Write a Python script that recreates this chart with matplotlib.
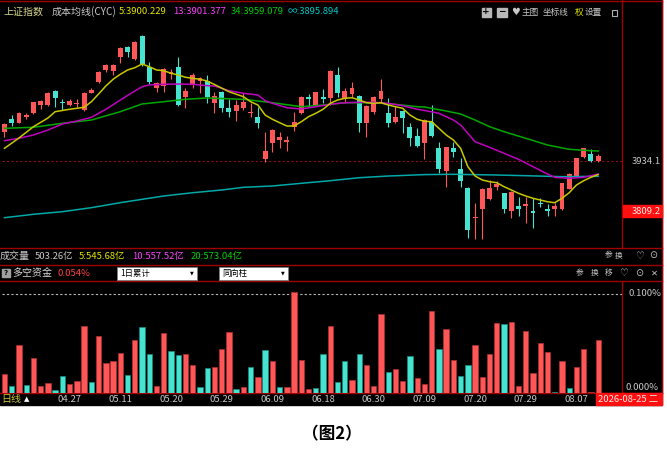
import matplotlib
matplotlib.use("Agg")
import matplotlib.pyplot as plt
from matplotlib.patches import Rectangle
from matplotlib.transforms import blended_transform_factory

# ---------------- data ----------------
opens = [4007.3,4039.8,4029.8,4044.0,4053.3,4074.0,4074.0,4108.2,4081.5,4074.7,
         4076.5,4061.5,4104.7,4131.4,4162.2,4158.9,4194.6,4219.6,4188.2,4246.4,
         4169.7,4117.2,4122.2,4150.7,4168.9,4094.7,4124.0,4134.7,4134.7,4079.7,
         4107.2,4065.8,4059.7,4067.2,4054.0,4044.8,3939.1,3979.1,3985.8,3980.8,
         4019.8,4053.3,4093.2,4072.2,4094.0,4092.2,4148.9,4089.0,4100.7,4096.5,
         4028.3,4055.8,4089.0,4054.8,4030.8,4059.0,4019.8,3996.6,3978.3,4032.3,
         3967.3,3909.9,3965.8,3913.4,3867.4,3791.0,3813.5,3839.2,3868.4,3853.4,
         3810.0,3821.7,3822.4,3810.0,3828.4,3813.5,3814.2,3813.5,3864.2,3896.6,
         3944.8,3951.6,3934.1]
highs = [4027.8,4049.0,4057.3,4054.8,4082.2,4085.5,4106.5,4111.5,4089.0,4088.2,
         4088.2,4105.7,4115.7,4159.7,4175.7,4176.4,4219.6,4221.4,4233.9,4248.1,
         4182.2,4132.2,4167.2,4163.2,4194.6,4115.7,4153.2,4144.7,4148.9,4107.7,
         4109.7,4088.2,4086.5,4103.2,4079.7,4069.7,4007.3,4013.0,4007.3,3996.6,
         4057.3,4096.5,4101.5,4107.7,4114.7,4161.4,4169.7,4115.7,4130.7,4099.0,
         4074.0,4096.5,4138.9,4090.7,4072.2,4061.5,4029.8,4015.8,4038.3,4074.0,
         3982.3,3969.8,3982.3,3940.8,3869.9,3829.9,3865.9,3886.6,3884.9,3855.0,
         3859.2,3843.4,3844.9,3840.9,3840.9,3826.7,3829.9,3879.9,3903.4,3942.4,
         3967.3,3964.1,3950.9]
lows = [3994.1,4021.5,4028.3,4038.3,4051.5,4063.3,4072.2,4068.2,4061.5,4071.5,
        4068.2,4059.7,4103.2,4128.9,4157.2,4148.9,4179.7,4193.1,4186.4,4172.2,
        4126.4,4106.5,4107.2,4138.2,4071.5,4067.2,4117.2,4103.2,4079.7,4054.8,
        4055.8,4044.8,4034.0,4061.5,4043.2,4017.3,3930.9,3957.3,3965.8,3959.8,
        4009.8,4051.5,4069.7,4071.5,4078.2,4074.0,4093.2,4078.2,4093.2,4007.3,
        3994.8,4051.5,4080.7,4019.8,4028.3,4004.8,3971.6,3968.3,3940.3,3994.8,
        3903.4,3869.9,3944.8,3868.4,3742.5,3738.5,3739.3,3837.5,3861.7,3805.0,
        3791.0,3796.7,3780.0,3766.0,3819.9,3796.7,3797.5,3811.7,3863.4,3894.9,
        3942.4,3932.4,3930.9]
closes = [4025.8,4028.3,4054.8,4049.8,4080.7,4084.7,4104.0,4091.5,4079.0,4084.0,
          4079.7,4104.0,4110.7,4157.2,4173.9,4174.7,4217.1,4207.1,4232.1,4175.7,
          4132.2,4128.2,4163.2,4157.2,4074.7,4109.7,4148.9,4140.7,4093.2,4096.5,
          4067.2,4057.3,4074.0,4082.2,4057.3,4028.3,3959.8,4011.5,3994.1,3987.3,
          4032.3,4094.7,4089.0,4106.5,4089.7,4158.9,4104.7,4109.0,4116.5,4028.3,
          4072.2,4093.2,4109.7,4029.8,4043.2,4042.3,3990.8,3971.6,4036.5,3997.3,
          3913.4,3968.3,3956.6,3884.1,3761.7,3795.0,3864.2,3867.4,3875.9,3813.5,
          3857.4,3813.5,3826.7,3803.5,3825.9,3810.0,3821.7,3878.4,3900.9,3940.8,
          3965.8,3934.1,3947.3]

ma5_x = [0,2,4,6,7,9,10,11,12,13,14,15,16,17,18,19,20,21,22,23,24,25,26,27,28,29,31,33,
         34,35,36,37,38,39,40,41,42,43,44,45,46,47,48,49,50,51,52,53,54,55,56,57,58,59,
         60,61,62,63,64,65,66,67,68,69,70,71,72,73,74,75,76,77,78,79,80,81,82]
ma5_v = [3965.8,3991.6,4019.8,4041.5,4057.3,
         4063.3,4065.8,4068.2,4082.2,4101.5,4121.5,4138.2,4150.7,4161.4,4167.2,4176.4,
         4169.7,4161.4,4159.7,4153.2,4148.9,4143.2,4140.7,4138.2,4133.9,4125.2,
         4107.2,4094.7,
         4082.2,4074.0,4049.0,4038.3,4029.8,4021.5,4021.5,4032.3,4044.8,4053.3,4063.3,
         4078.2,4086.5,4090.7,4092.2,4086.5,4079.7,4078.2,4079.7,4074.0,4069.7,4065.8,
         4049.0,4038.3,4033.3,4032.3,4015.8,3999.1,3986.6,3965.8,3919.9,3896.6,3886.6,
         3882.4,3879.9,3869.9,3861.7,3853.4,3846.7,3840.9,3836.7,3832.4,3829.9,3840.9,
         3854.9,3874.2,3884.9,3893.4,3900.2]

ma13_x = [0,2,4,6,8,10,12,14,16,18,19,20,22,24,26,28,29,31,33,35,36,37,39,41,43,45,47,
          49,51,53,55,57,58,60,62,63,64,65,67,69,71,73,75,76,78,80,82]
ma13_v = [3984.8,3990.8,3999.1,4011.5,4026.5,4034.0,4043.2,4063.3,4086.5,4109.0,
          4119.7,4124.0,4125.7,4126.4,4125.7,4122.2,4121.5,
          4109.7,4103.2,4099.0,4084.7,4078.2,4067.2,4064.0,4069.7,4075.7,4079.7,4080.7,
          4080.7,4078.2,4072.2,4063.3,4060.3,
          4053.3,4036.5,4024.0,4003.3,3982.3,3968.3,3953.3,3938.3,3919.9,3901.6,3893.4,
          3890.9,3893.4,3901.4]

ma34_x = [0,4,8,12,16,19,22,25,28,33,37,41,44,47,51,54,57,58,61,63,65,67,69,72,75,78,81,82]
ma34_v = [4015.8,4018.3,4028.3,4036.5,4057.3,4076.5,4082.2,4088.2,4091.5,
          4088.2,4079.7,4069.7,4074.0,4079.7,4079.7,4075.7,4069.7,4069.0,
          4059.0,4051.5,4036.5,4019.8,4007.3,3990.8,3974.1,3963.3,3959.8,3959.1]

mainf_x = [0,4,8,12,16,19,22,26,30,33,37,41,45,49,53,58,62,68,72,77,82]
mainf_v = [3792.5,3801.0,3807.5,3817.5,3830.0,3838.4,3846.7,3854.9,3861.7,3868.4,
           3871.7,3878.4,3884.9,3892.4,3896.6,3900.1,3900.9,3899.1,3897.4,3894.9,3895.9]

fund_pct = [0.0184,0.0061,0.0487,0.0079,0.0354,0.0071,0.0099,0.0028,0.0170,0.0085,
            0.0115,0.0673,0.0102,0.0574,0.0296,0.0316,0.0401,0.0177,0.0531,0.0666,
            0.0388,0.0071,0.0602,0.0421,0.0381,0.0395,0.0283,0.0051,0.0248,0.0255,
            0.0442,0.0615,0.0031,0.0058,0.0255,0.0156,0.0436,0.0323,0.0058,0.0051,
            0.1023,0.0330,0.0031,0.0044,0.0395,0.0673,0.0109,0.0319,0.0126,0.0395,
            0.0276,0.0071,0.0799,0.0204,0.0235,0.0115,0.0374,0.0143,0.0082,0.0827,
            0.0442,0.0640,0.0334,0.0170,0.0276,0.0487,0.0156,0.0395,0.0701,0.0697,
            0.0714,0.0068,0.0622,0.0197,0.0507,0.0408,0.0010,0.0316,0.0044,0.0262,
            0.0442,0.0010,0.0534]
fund_dir = list("RCRCRRRCCR" "RRCRRRRCRC" "CRRCCRRCCR" "RRCRCRCRCR" "RRRCCRCCRC"
                "RRRCRRCRRR" "CRRCCRRRRC" "RRRRRRCRCR" "RRR")

date_idx = [9, 16, 23, 30, 37, 44, 51, 58, 65, 72, 79]
date_labels = ['04.27', '05.11', '05.20', '05.29', '06.09', '06.18',
               '06.30', '07.09', '07.20', '07.29', '08.07']

cursor_price = 3809.2
fund_ref = 0.1

# ---------------- style ----------------
RED = '#ff5757'
CYAN = '#45e3d0'
LINE_RED = '#a00000'
CN = ['Noto Sans CJK SC', 'DejaVu Sans']
SYM = ['DejaVu Sans', 'Noto Sans CJK SC']
GRAY = '#c8c8c8'

W, H = 667, 455
fig = plt.figure(figsize=(W / 100, H / 100), dpi=100, facecolor='white')


def px_axes(l, t, r, b):
    return fig.add_axes([l / W, 1 - b / H, (r - l) / W, (b - t) / H])


bg = px_axes(0, 0, W, H)
bg.set_xlim(0, W)
bg.set_ylim(H, 0)
bg.axis('off')
bg.add_patch(Rectangle((0, 0), 662, 405, color='black', zorder=0))

# separator lines
for yy in [0.5, 248, 265, 281, 392.5]:
    bg.plot([0, 662], [yy, yy], color=LINE_RED, lw=1.0, zorder=1)
bg.plot([622, 622], [0, 248], color=LINE_RED, lw=1.0, zorder=1)
bg.plot([622, 622], [281, 392.5], color=LINE_RED, lw=1.0, zorder=1)
bg.plot([661.5, 661.5], [0, 392.5], color=LINE_RED, lw=1.0, zorder=1)


def txt(x, y, s, c, size=7, fam=CN, ha='left', va='center', **kw):
    bg.text(x, y, s, color=c, fontsize=size, family=fam, ha=ha, va=va, **kw)


# header
txt(3, 12, '上证指数', '#d8d890', size=7.2)
txt(52, 12, '成本均线(CYC)', GRAY, size=7.2)
txt(119, 12, '5:3900.229', '#e6e600', size=6.8)
txt(173, 12, '13:3901.377', '#ff40ff', size=6.8)
txt(231, 12, '34:3959.079', '#00d000', size=6.8)
txt(288, 12, '∞:3895.894', '#00c8c8', size=6.8)
for x0, s in [(481.5, '+'), (497, '−')]:
    bg.add_patch(Rectangle((x0, 7.5), 9.5, 9.5, color='#b8b8b8', zorder=2))
    txt(x0 + 4.75, 12, s, 'black', size=6.5, fam=SYM, ha='center', fontweight='bold')
txt(516, 12, '♥', '#c8c8c8', size=7, fam=SYM, ha='center')
txt(522, 12, '主图', GRAY, size=6.2)
txt(543, 12, '坐标线', GRAY, size=6.2)
txt(575, 12, '权', '#e6e600', size=6.2)
txt(585, 12, '设置', GRAY, size=6.2)
bg.add_patch(Rectangle((611.5, 10), 5.5, 5.5, fill=False, ec='#b0b0b0', lw=0.8, zorder=2))

# row 2
txt(0, 256, '成交量', GRAY, size=7.2)
txt(35, 256, '503.26亿', GRAY, size=6.8)
txt(79, 256, '5:545.68亿', '#e6e600', size=6.8)
txt(132, 256, '10:557.52亿', '#ff40ff', size=6.8)
txt(191, 256, '20:573.04亿', '#00d000', size=6.8)
for x0, s in [(609, '参'), (619, '换')]:
    txt(x0, 255.5, s, GRAY, size=5.5, ha='center')
txt(639, 255.5, '♡', GRAY, size=7, fam=SYM, ha='center')
txt(653.5, 255.5, '⊙', GRAY, size=7, fam=SYM, ha='center')

# row 3
bg.add_patch(Rectangle((2, 268.5), 7.5, 8, color='#a0a0a0', zorder=2))
txt(5.75, 272.8, '?', 'black', size=5, fam=SYM, ha='center', fontweight='bold')
txt(12, 273, '多空资金', '#d8d8d8', size=7.2)
txt(57, 273, '0.054%', '#ff4040', size=6.8)
for (x0, x1, s) in [(116.5, 197, '1日累计'), (218.5, 287.5, '同向柱')]:
    bg.add_patch(Rectangle((x0, 267), x1 - x0, 12.5, facecolor='white',
                           edgecolor='#808080', lw=0.6, zorder=2))
    txt(x0 + 4, 273.3, s, 'black', size=6.0)
    txt(x1 - 5, 273.3, '▼', 'black', size=3.5, fam=SYM, ha='center')
for x0, s in [(579.5, '参'), (594.5, '换'), (608.5, '移')]:
    txt(x0, 273, s, GRAY, size=5.5, ha='center')
txt(623.5, 273, '♡', GRAY, size=7, fam=SYM, ha='center')
txt(639.5, 273, '⊙', GRAY, size=7, fam=SYM, ha='center')
txt(654.5, 273, '✕', GRAY, size=6, fam=SYM, ha='center')

# bottom row
txt(1, 399, '日线', '#c8c832', size=7.2)
txt(27, 399, '▲', 'white', size=5, fam=SYM, ha='center')
txt(626, 392, '0.000%', GRAY, size=6.8, va='bottom', zorder=3)
bg.add_patch(Rectangle((596, 393.3), 66, 11.7, color='#ff1010', zorder=4))
txt(598.5, 399, '2026-08-25 二', '#ffe8e8', size=6.8, zorder=5)

# caption
txt(332, 434, '（图2）', 'black', size=12, ha='center', fontweight='bold')

# ---------------- main candle chart ----------------
ax = px_axes(2, 20, 622, 248)
ax.set_facecolor('none')
ax.axis('off')
xlim = (-0.345, 85.29)
ax.set_xlim(*xlim)
ax.set_ylim(3716.8, 4286.3)

xs = list(range(len(opens)))
cols = [RED if c >= o else CYAN for o, c in zip(opens, closes)]
bottoms = [min(o, c) for o, c in zip(opens, closes)]
heights = [max(abs(c - o), 2.2) for o, c in zip(opens, closes)]
ax.vlines(xs, lows, highs, colors=cols, lw=0.8, zorder=2)
ax.bar(xs, heights, bottom=bottoms, width=0.68, color=cols, lw=0, zorder=3)

ax.axhline(closes[81], color='#901010', lw=0.8, ls=(0, (2, 2)), zorder=1)
ax.plot(mainf_x, mainf_v, color='#00a8a8', lw=1.1, zorder=4)
ax.plot(ma34_x, ma34_v, color='#00a800', lw=1.1, zorder=4)
ax.plot(ma13_x, ma13_v, color='#c000c0', lw=1.1, zorder=4)
ax.plot(ma5_x, ma5_v, color='#c8c800', lw=1.1, zorder=4)

tr = blended_transform_factory(bg.transData, ax.transData)
ax.text(661, closes[81], f'{closes[81]:.1f}', transform=tr, color=GRAY, fontsize=6.8,
        family=CN, ha='right', va='center', clip_on=False)
ax.add_patch(Rectangle((623, cursor_price - 15), 39, 30, transform=tr, color='#ff1010',
                       clip_on=False, zorder=5))
ax.text(660.5, cursor_price, f'{cursor_price:.1f}', transform=tr, color='#ffe8e8',
        fontsize=6.8, family=CN, ha='right', va='center', clip_on=False, zorder=6)

# ---------------- fund sub chart ----------------
axs = px_axes(2, 281, 622, 392.5)
axs.set_facecolor('none')
axs.set_xlim(*xlim)
axs.set_ylim(0, 0.1 * (392.5 - 281) / 98.5)
for sp in axs.spines.values():
    sp.set_visible(False)
fcols = [RED if d == 'R' else CYAN for d in fund_dir]
fedges = ['#b03030' if d == 'R' else '#1a8a80' for d in fund_dir]
axs.bar(xs, fund_pct, width=0.74, color=fcols, edgecolor=fedges, lw=0.5, zorder=3)
axs.axhline(fund_ref, color='#b8b8b8', lw=0.8, ls=(0, (2, 2)), zorder=2)
axs.set_yticks([])
axs.set_xticks(date_idx)
axs.set_xticklabels(date_labels)
axs.tick_params(axis='x', length=0, pad=1.5, labelsize=6.8, labelcolor=GRAY)
for lab in axs.get_xticklabels():
    lab.set_family(CN)
trs = blended_transform_factory(bg.transData, axs.transData)
axs.text(661, fund_ref, f'{fund_ref:.3f}%', transform=trs, color=GRAY, fontsize=6.8,
         family=CN, ha='right', va='center', clip_on=False)

fig.savefig('out.png', dpi=100, facecolor='white')
